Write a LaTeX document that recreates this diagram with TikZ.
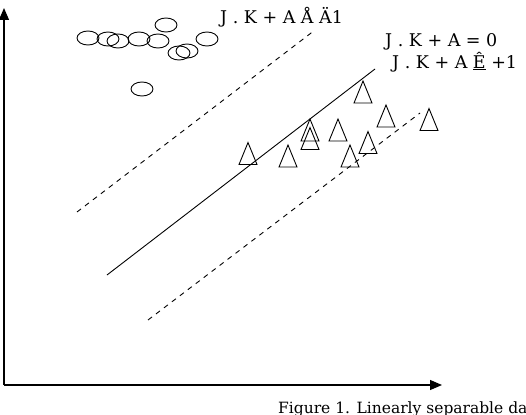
\documentclass[tikz,border=0pt]{standalone}
\usepackage{fontspec}
\setmainfont{DejaVu Serif}
\usetikzlibrary{shapes.geometric, arrows.meta}

\begin{document}
\begin{tikzpicture}[x=1pt, y=-1pt,
        cls/.style={ellipse, draw, line width=0.9pt, minimum width=22pt, minimum height=14pt, inner sep=0pt},
        tri/.style={isosceles triangle, isosceles triangle stretches, shape border rotate=90,
                    draw, line width=0.9pt, minimum width=18pt, minimum height=22pt, inner sep=0pt},
        eqn/.style={font=\fontsize{17.5}{17.5}\selectfont, inner sep=0pt, anchor=west}]
    \useasboundingbox (0,0) rectangle (526,414);

    % Axes
    \coordinate (origin) at (4,385);
    \coordinate (ytip) at (4,8);
    \coordinate (xtip) at (442,385);
    \draw[-{Triangle[length=12pt,width=10pt]}, line width=1.2pt] (origin) -- (ytip);
    \draw[-{Triangle[length=12pt,width=10pt]}, line width=1.2pt] (origin) -- (xtip);

    % Margins (dashed) and separating line
    \draw[line width=0.9pt, dash pattern=on 5pt off 5pt] (77,212) -- (315,30);
    \draw[line width=0.9pt] (107,275) -- (375,69);
    \draw[line width=0.9pt, dash pattern=on 5pt off 5pt] (148,320) -- (420,113);

    % Class -1 (circles)
    \node[cls] (c1) at (88,38) {};
    \node[cls] (c2) at (108,39) {};
    \node[cls] (c3) at (118,41) {};
    \node[cls] (c4) at (139,39) {};
    \node[cls] (c5) at (158,41) {};
    \node[cls] (c6) at (166,25) {};
    \node[cls] (c7) at (179,53) {};
    \node[cls] (c8) at (187,51) {};
    \node[cls] (c9) at (207,39) {};
    \node[cls] (c10) at (142,89) {};

    % Class +1 (triangles)
    \node[tri] (t1) at (248,158.5) {};
    \node[tri] (t2) at (288,161) {};
    \node[tri] (t3) at (310,135) {};
    \node[tri] (t4) at (310,143.5) {};
    \node[tri] (t5) at (338,135) {};
    \node[tri] (t6) at (350,161) {};
    \node[tri] (t7) at (368,147.5) {};
    \node[tri] (t8) at (386,121) {};
    \node[tri] (t9) at (429,124.5) {};
    \node[tri] (t10) at (363,97) {};

    % Equations of the three lines
    \node[eqn] (upper) at (220,17) {J . K + A Å Ä1};
    \node[eqn] (middle) at (385,42) {J . K + A = 0};
    \node[eqn] (lower) at (392,62) {J . K + A \underline{Ê} +1};

    % Caption
    \node[font=\fontsize{15.5}{15.5}\selectfont, inner sep=0pt, anchor=base west] (caption) at (278,413)
        {Figure 1. Linearly separable data};
\end{tikzpicture}
\end{document}
